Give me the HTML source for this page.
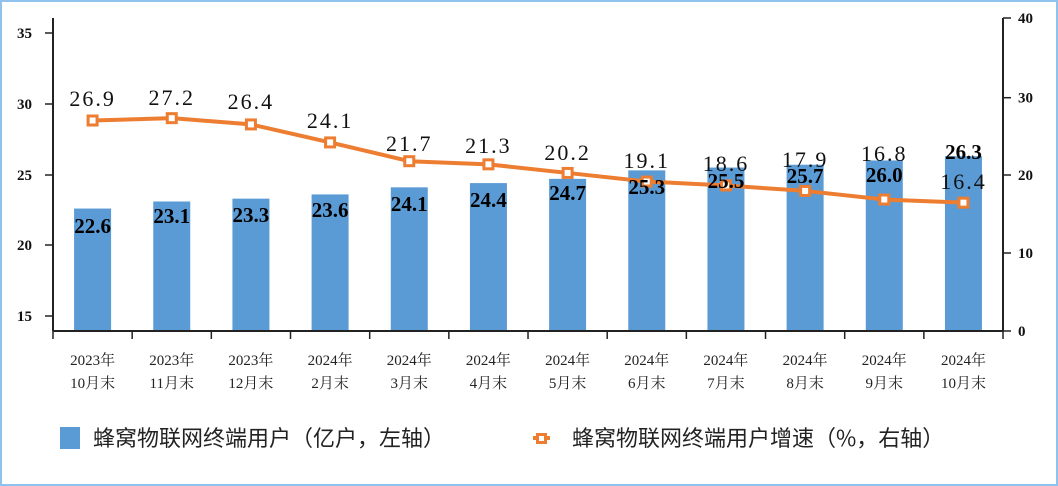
<!DOCTYPE html>
<html><head><meta charset="utf-8"><style>
html,body{margin:0;padding:0;background:#fff}
svg{display:block}
</style></head><body>
<svg width="1058" height="486" xmlns="http://www.w3.org/2000/svg">
<rect x="1" y="1" width="1056" height="484" fill="#fff" stroke="#8fc2ec" stroke-width="2"/>
<g id="bars" fill="#5b9bd5"></g>
<g id="axes" stroke="#222" stroke-width="2" fill="none">
<line x1="53" y1="18" x2="53" y2="331"/>
<line x1="53" y1="331" x2="1003" y2="331"/>
<line x1="1003" y1="18" x2="1003" y2="331"/>
</g>
<g id="ticks" stroke="#222" stroke-width="1.5"></g>
<g id="tl" font-family="Liberation Serif, serif" font-size="15" font-weight="bold" fill="#111"></g>
<g id="xl" font-family="Liberation Serif, 'Noto Serif CJK SC', serif" font-size="15" fill="#222" text-anchor="middle"></g>
<polyline id="ln" fill="none" stroke="#ed7d31" stroke-width="4" stroke-linejoin="round"/>
<g id="mk"></g>
<g id="ll" font-family="Liberation Serif, serif" font-size="22" fill="#111" text-anchor="middle" letter-spacing="2"></g>
<g id="bl" font-family="Liberation Serif, serif" font-size="21" font-weight="bold" fill="#000" text-anchor="middle"></g>
<rect x="60" y="427" width="20" height="22" fill="#5b9bd5"/>
<text x="93" y="446" font-family="'Noto Sans CJK SC', sans-serif" font-size="22" fill="#222">蜂窝物联网终端用户（亿户，左轴）</text>
<line x1="533" y1="438" x2="550" y2="438" stroke="#ed7d31" stroke-width="4"/>
<rect x="537.5" y="434.5" width="8" height="8" fill="#fff" stroke="#ed7d31" stroke-width="3"/>
<text x="572" y="446" font-family="'Noto Sans CJK SC', sans-serif" font-size="22" fill="#222">蜂窝物联网终端用户增速（%，右轴）</text>
</svg>
<script>
const NS="http://www.w3.org/2000/svg";
function el(p,t,a,txt){const e=document.createElementNS(NS,t);for(const k in a)e.setAttribute(k,a[k]);if(txt!=null)e.textContent=txt;document.getElementById(p).appendChild(e);return e;}
const bars=[22.6,23.1,23.3,23.6,24.1,24.4,24.7,25.3,25.5,25.7,26.0,26.3];
const line=[26.9,27.2,26.4,24.1,21.7,21.3,20.2,19.1,18.6,17.9,16.8,16.4];
const blY=[226,216,215,210,204,200,193,187,181,176,175,152];
const llY=[98,97,101,120,143,145,152,160,163,159,153,181];
const xl=[["2023年","10月末"],["2023年","11月末"],["2023年","12月末"],["2024年","2月末"],["2024年","3月末"],["2024年","4月末"],["2024年","5月末"],["2024年","6月末"],["2024年","7月末"],["2024年","8月末"],["2024年","9月末"],["2024年","10月末"]];
const sp=79.17;
let pts=[];
for(let i=0;i<12;i++){
 const cx=53+sp*(i+0.5);
 const top=331-(bars[i]-13.94)*14.14;
 el("bars","rect",{x:cx-18.5,y:top,width:37,height:331-top});
 const ly=331-line[i]*7.825;
 pts.push(cx+","+ly);
 el("mk","rect",{x:cx-4.5,y:ly-4.5,width:9,height:9,fill:"#fff",stroke:"#ed7d31","stroke-width":3});
 el("ll","text",{x:cx,y:llY[i]+8},line[i].toFixed(1));
 el("bl","text",{x:cx,y:blY[i]+7},bars[i].toFixed(1));
 el("xl","text",{x:cx,y:365},xl[i][0]);
 el("xl","text",{x:cx,y:388},xl[i][1]);
 el("ticks","line",{x1:53+sp*i,y1:331,x2:53+sp*i,y2:339});
}
el("ticks","line",{x1:1003,y1:331,x2:1003,y2:339});
document.getElementById("ln").setAttribute("points",pts.join(" "));
[[35,33],[30,104],[25,175],[20,245],[15,316]].forEach(([v,y])=>{
 el("ticks","line",{x1:45,y1:y,x2:53,y2:y});
 el("tl","text",{x:17,y:y+5},v);
});
[[40,18],[30,97.7],[20,175],[10,253],[0,331]].forEach(([v,y])=>{
 el("ticks","line",{x1:1003,y1:y,x2:1011,y2:y});
 el("tl","text",{x:1018,y:y+5},v);
});
</script>
</body></html>
